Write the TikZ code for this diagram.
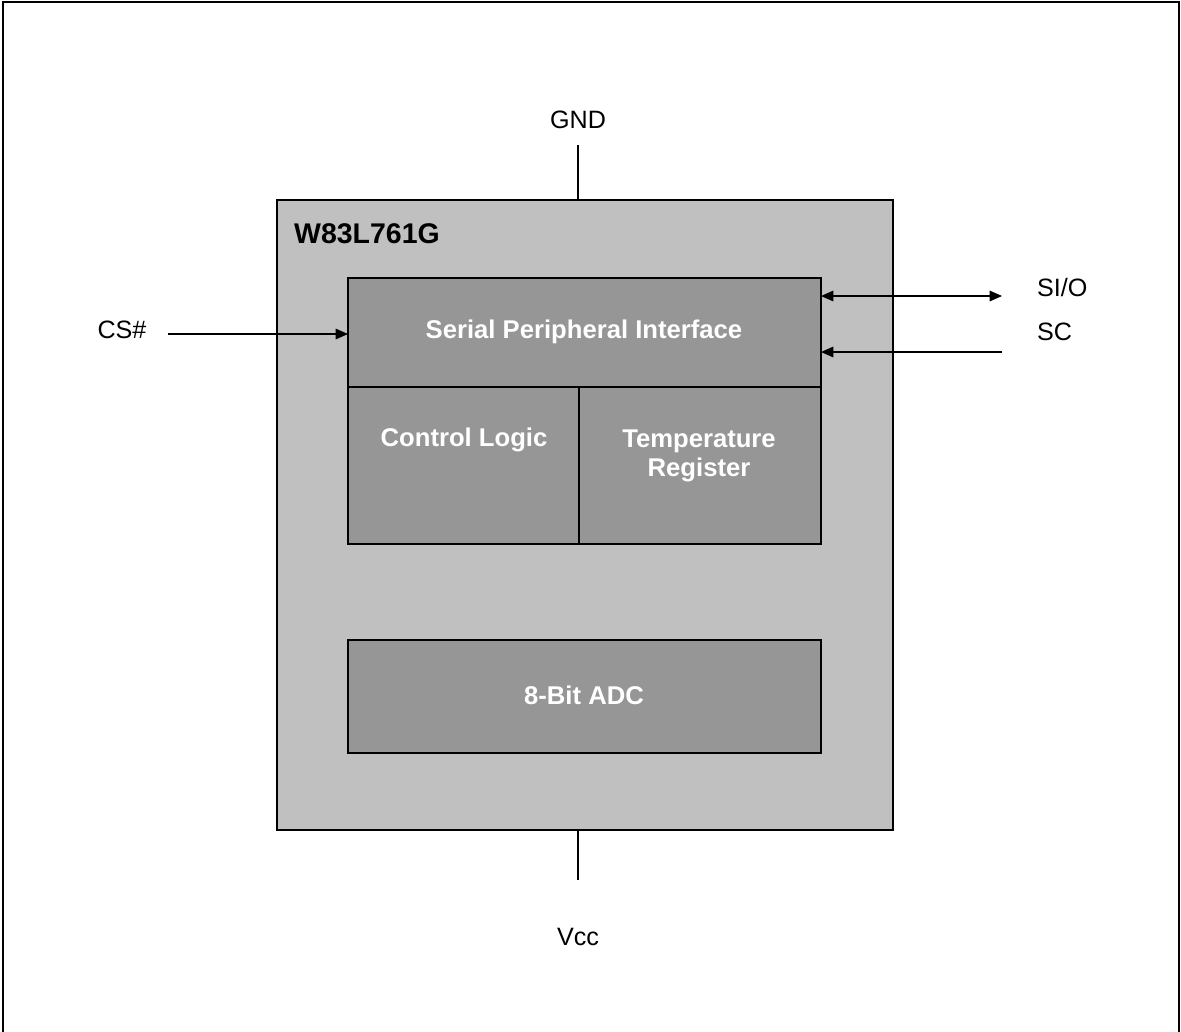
\documentclass[tikz,border=0pt]{standalone}
\usepackage{fontspec}
\setmainfont{Liberation Sans}
\usetikzlibrary{arrows.meta}
\definecolor{chipgray}{RGB}{192,192,192}
\definecolor{blockgray}{RGB}{150,150,150}

\begin{document}
\begin{tikzpicture}[x=0.02cm, y=-0.02cm,
    block/.style = {draw, fill=blockgray, line width=0.7pt},
    blocktext/.style = {text=white, font=\fontsize{14.6}{16.3}\selectfont\bfseries, align=center},
    pin/.style = {font=\fontsize{14.3}{16}\selectfont},
    wire/.style = {line width=0.7pt},
    tip/.style = {-{Triangle[length=7pt, width=6pt]}}]
    \useasboundingbox (0,0) rectangle (1181,1032);
    % Cadre
    \draw[line width=1.4pt] (3,1032) -- (3,2) -- (1179,2) -- (1179,1032);

    % Boîtier
    \draw[fill=chipgray, line width=0.7pt] (277,200) rectangle (893,830);
    \node[anchor=west, font=\fontsize{16.2}{18}\selectfont\bfseries] (chip) at (288,234) {W83L761G};

    % Blocs
    \draw[block] (348,278) rectangle (821,387);
    \draw[block] (348,387) rectangle (579,544);
    \draw[block] (579,387) rectangle (821,544);
    \draw[block] (348,640) rectangle (821,753);
    \coordinate (spiW) at (348,334);
    \coordinate (spiNE) at (821,296);
    \coordinate (spiSE) at (821,352);

    \node[blocktext] (spi) at (584,332) {Serial Peripheral Interface};
    \node[blocktext] (ctrl) at (464,440) {Control Logic};
    \node[blocktext] (temp) at (699,456) {Temperature\\Register};
    \node[blocktext] (adc) at (584,695) {8-Bit ADC};

    % Broches
    \node[pin] (gnd) at (578,120) {GND};
    \node[pin] (vcc) at (578,937) {Vcc};
    \node[pin] (cs) at (122,330) {CS\#};
    \node[pin, anchor=west] (sio) at (1031,288) {SI/O};
    \node[pin, anchor=west] (sc) at (1031,332) {SC};
    \coordinate (gndE) at (578,145);
    \coordinate (vccE) at (578,880);
    \coordinate (csE) at (168,334);
    \coordinate (sioE) at (1002,296);
    \coordinate (scE) at (1002,352);

    % Liaisons
    \draw[wire] (gndE) -- (578,200);
    \draw[wire] (578,830) -- (vccE);
    \draw[wire, tip] (csE) -- (spiW);
    \draw[wire, {Triangle[length=7pt, width=6pt]}-{Triangle[length=7pt, width=6pt]}] (spiNE) -- (sioE);
    \draw[wire, tip] (scE) -- (spiSE);
\end{tikzpicture}
\end{document}
